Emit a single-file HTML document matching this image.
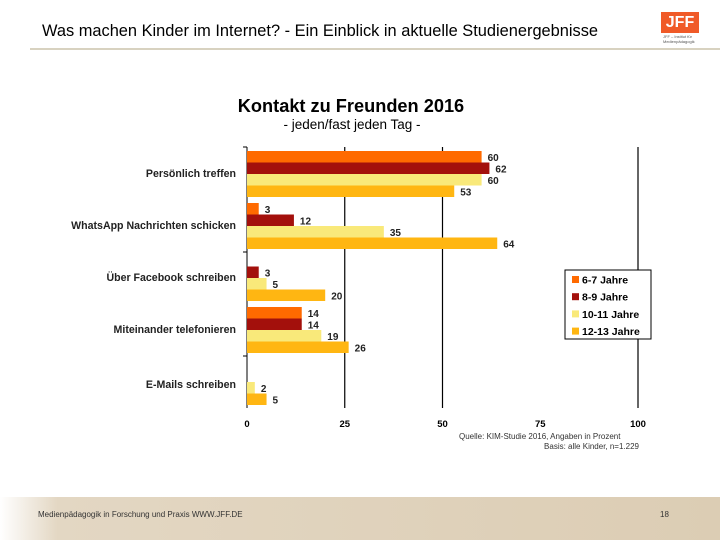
<!DOCTYPE html>
<html><head><meta charset="utf-8"><style>
body{margin:0;width:720px;height:540px;overflow:hidden;background:#fff;font-family:"Liberation Sans",sans-serif;position:relative}
.abs{position:absolute}
</style></head><body>
<div class="abs" style="left:42px;top:22px;font-size:16.4px;color:#000">Was machen Kinder im Internet? - Ein Einblick in aktuelle Studienergebnisse</div>
<div class="abs" style="left:30px;top:48px;width:690px;height:2px;background:#d8d2c0"></div>
<div class="abs" style="left:661px;top:12px;width:38px;height:21px;background:#f05a28;color:#fff;font-weight:bold;font-size:16px;line-height:21px;text-align:center">JFF</div>
<div class="abs" style="left:663px;top:34px;font-size:4px;color:#555;line-height:5px">JFF – Institut für<br>Medienpädagogik</div>
<div class="abs" style="left:0;top:497px;width:720px;height:43px;background:linear-gradient(90deg,#fff 0%,#e3d7c3 8%,#dccdb4 100%)"></div>
<div class="abs" style="left:38px;top:510px;font-size:8px;color:#333">Medienpädagogik in Forschung und Praxis WWW.JFF.DE</div>
<div class="abs" style="left:660px;top:510px;font-size:8px;color:#333">18</div>
<svg class="abs" style="left:0;top:0" width="720" height="540">
<text x="351" y="112" font-size="18.2" font-weight="bold" text-anchor="middle">Kontakt zu Freunden 2016</text>
<text x="352" y="129" font-size="13.5" text-anchor="middle">- jeden/fast jeden Tag -</text>
<g id="g"></g>
<text x="459" y="439" font-size="8" fill="#333">Quelle: KIM-Studie 2016, Angaben in Prozent</text>
<text x="639" y="449" font-size="8" fill="#333" text-anchor="end">Basis: alle Kinder, n=1.229</text>
</svg>
<script>
const categories=["Persönlich treffen","WhatsApp Nachrichten schicken","Über Facebook schreiben","Miteinander telefonieren","E-Mails schreiben"];
const seriesNames=["6-7 Jahre","8-9 Jahre","10-11 Jahre","12-13 Jahre"];
const s67=[60,3,0,14,0];
const s89=[62,12,3,14,0];
const s1011=[60,35,5,19,2];
const s1213=[53,64,20,26,5];
const xTicks=[0,25,50,75,100];
const colors=["#ff6a00","#a3100c","#f9e97a","#ffb612"];
const series=[s67,s89,s1011,s1213];
const NS="http://www.w3.org/2000/svg",g=document.getElementById('g');
const x=v=>247+v*3.91;
const top0=151,groupH=52,barH=11.5;
function el(t,a){const e=document.createElementNS(NS,t);for(const k in a)e.setAttribute(k,a[k]);g.appendChild(e);return e;}
xTicks.forEach(t=>{
 if(t>0&&t!==75){const l=el('line',{x1:x(t),x2:x(t),y1:147,y2:408,stroke:'#000','stroke-width':1.2});
 
 }
 const tx=el('text',{x:x(t),y:427,'font-size':9.5,'font-weight':'bold','text-anchor':'middle'});tx.textContent=t;
 
 
});
const ax=el('line',{x1:247,x2:247,y1:147,y2:408,stroke:'#000','stroke-width':1});


[147,252,356].forEach(y=>{const t=el('line',{x1:243,x2:247,y1:y,y2:y,stroke:'#000'});

});
categories.forEach((c,i)=>{
 const gy=top0+i*groupH;
 const lab=el('text',{x:236,y:gy+(i==4?29:26),'font-size':10.6,'font-weight':'bold','text-anchor':'end',fill:'#222'});lab.textContent=c;
 
 
 series.forEach((s,j)=>{
  const v=s[i];if(!v)return;
  const y=gy+j*barH;
  const r=el('rect',{x:247,y:y,width:x(v)-247,height:barH,fill:colors[j]});
  
  
  const t=el('text',{x:x(v)+6,y:y+barH/2+4,'font-size':10,'font-weight':'bold',fill:'#222'});t.textContent=v;
  
  
 });
});
const lb=el('rect',{x:565,y:270,width:86,height:69,fill:'#fff',stroke:'#000','stroke-width':1});


seriesNames.forEach((n,j)=>{
 const y=276+j*17.2;
 const r=el('rect',{x:572,y:y,width:7,height:7,fill:colors[j]});
 
 
 const t=el('text',{x:582,y:y+7.5,'font-size':10.5,'font-weight':'bold'});t.textContent=n;
 
 
});
</script>
</body></html>
